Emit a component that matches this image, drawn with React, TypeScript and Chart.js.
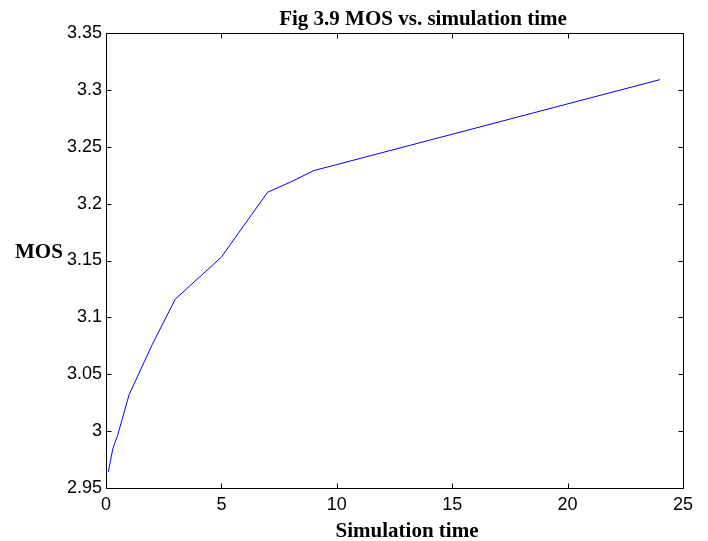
import React, { useEffect, useRef } from "react";
import { Chart, registerables } from "chart.js";

Chart.register(...registerables);

const timeValues = [0.1, 0.3, 0.5, 0.75, 1, 2, 3, 5, 7, 8, 9, 24];
const mosValues = [2.964, 2.985, 2.996, 3.014, 3.032, 3.076, 3.116, 3.153, 3.21, 3.219, 3.229, 3.309];
const xTickValues = [0, 5, 10, 15, 20, 25];
const xTickLabels = ["0", "5", "10", "15", "20", "25"];
const yTickValues = [2.95, 3, 3.05, 3.1, 3.15, 3.2, 3.25, 3.3, 3.35];
const yTickLabels = ["2.95", "3", "3.05", "3.1", "3.15", "3.2", "3.25", "3.3", "3.35"];
const titleText = "Fig 3.9 MOS vs. simulation time";
const xAxisTitle = "Simulation time";
const yAxisTitle = "MOS";

const boxPlugin = {
  id: "matlabBox",
  afterDraw(chart: any) {
    const { ctx, chartArea } = chart;
    const { left, right, top, bottom } = chartArea;
    const xs = chart.scales.x;
    const ys = chart.scales.y;
    ctx.save();
    ctx.strokeStyle = "#000";
    ctx.lineWidth = 1;
    const L = Math.round(left) + 0.5;
    const R = Math.round(right) + 0.5;
    const T = Math.round(top) + 0.5;
    const B = Math.round(bottom) + 0.5;
    ctx.beginPath();
    ctx.rect(L, T, R - L, B - T);
    ctx.stroke();
    ctx.beginPath();
    xTickValues.forEach((v) => {
      const px = Math.round(xs.getPixelForValue(v)) + 0.5;
      ctx.moveTo(px, B);
      ctx.lineTo(px, B - 5);
      ctx.moveTo(px, T);
      ctx.lineTo(px, T + 5);
    });
    yTickValues.forEach((v) => {
      const py = Math.round(ys.getPixelForValue(v)) + 0.5;
      ctx.moveTo(L, py);
      ctx.lineTo(L + 5, py);
      ctx.moveTo(R, py);
      ctx.lineTo(R - 5, py);
    });
    ctx.stroke();

    ctx.fillStyle = "#000";
    ctx.font = "bold 21px 'Liberation Serif', 'Times New Roman', serif";
    ctx.textBaseline = "alphabetic";
    ctx.textAlign = "center";
    ctx.fillText(titleText, 423, 25);
    ctx.fillText(xAxisTitle, 407, 537);
    ctx.textAlign = "left";
    ctx.fillText(yAxisTitle, 15, 258);
    ctx.restore();
  },
};

export default function App() {
  const canvasRef = useRef<HTMLCanvasElement | null>(null);

  useEffect(() => {
    const canvas = canvasRef.current;
    if (!canvas) return;
    const chart = new Chart(canvas, {
      type: "line",
      data: {
        datasets: [
          {
            data: timeValues.map((t, i) => ({ x: t, y: mosValues[i] })),
            borderColor: "#0000ff",
            borderWidth: 1,
            pointRadius: 0,
            tension: 0,
            fill: false,
          },
        ],
      },
      options: {
        animation: false,
        responsive: false,
        events: [],
        layout: { padding: { left: 0, right: 25, top: 33, bottom: 0 } },
        plugins: {
          legend: { display: false },
          title: { display: false },
          tooltip: { enabled: false },
        },
        scales: {
          x: {
            type: "linear",
            min: 0,
            max: 25,
            grid: { display: false, drawTicks: false },
            border: { display: false },
            afterBuildTicks: (scale: any) => {
              scale.ticks = xTickValues.map((v) => ({ value: v }));
            },
            afterFit: (scale: any) => {
              scale.height = 53;
            },
            ticks: {
              padding: 6,
              color: "#000",
              font: { family: "'Liberation Sans', Arial, sans-serif", size: 18 },
              maxRotation: 0,
              callback: (_v: any, i: number) => xTickLabels[i],
            },
          },
          y: {
            type: "linear",
            min: 2.95,
            max: 3.35,
            grid: { display: false, drawTicks: false },
            border: { display: false },
            afterBuildTicks: (scale: any) => {
              scale.ticks = yTickValues.map((v) => ({ value: v }));
            },
            afterFit: (scale: any) => {
              scale.width = 106;
            },
            ticks: {
              padding: 4,
              color: "#000",
              font: { family: "'Liberation Sans', Arial, sans-serif", size: 18 },
              callback: (_v: any, i: number) => yTickLabels[i],
            },
          },
        },
      },
      plugins: [boxPlugin],
    });
    return () => chart.destroy();
  }, []);

  return (
    <div style={{ position: "fixed", left: 0, top: 0, width: 708, height: 541, background: "#fff" }}>
      <canvas ref={canvasRef} width={708} height={541} style={{ display: "block" }} />
    </div>
  );
}
